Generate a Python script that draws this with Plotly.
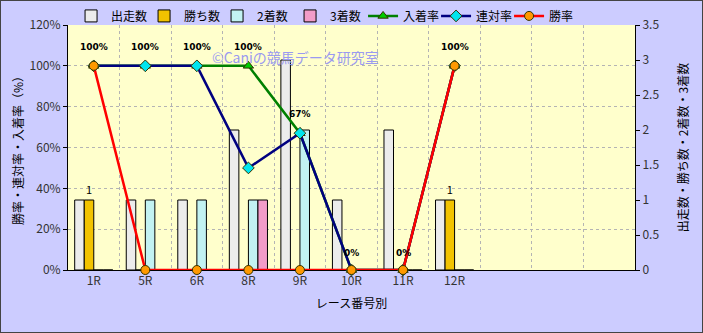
import plotly.graph_objects as go

categories = ["1R", "5R", "6R", "8R", "9R", "10R", "11R", "12R"]
n_slots = 11
starts = [1, 1, 1, 2, 3, 1, 2, 1]
wins = [1, 0, 0, 0, 0, 0, 0, 1]
seconds = [0, 1, 1, 1, 2, 0, 0, 0]
thirds = [0, 0, 0, 1, 0, 0, 0, 0]
place_rate = [100, 100, 100, 100, 67, 0, 0, 100]
rentai_rate = [100, 100, 100, 50, 67, 0, 0, 100]
win_rate = [100, 0, 0, 0, 0, 0, 0, 100]

xs = list(range(len(categories)))
FONT = "Noto Sans CJK JP"

fig = go.Figure()

bar_specs = [
    ("出走数", starts, "#ECECEC"),
    ("勝ち数", wins, "#F2C300"),
    ("2着数", seconds, "#C2F2F2"),
    ("3着数", thirds, "#F29CC8"),
]
for name, vals, col in bar_specs:
    txt = [str(v) if (name == "勝ち数" and v > 0) else "" for v in vals]
    fig.add_trace(go.Bar(
        x=xs, y=vals, name=name, yaxis="y",
        marker=dict(color=col, line=dict(color="#000000", width=1)),
        text=txt, textposition="outside", cliponaxis=False,
        textfont=dict(size=11, color="#000000", family=FONT),
    ))

line_specs = [
    ("入着率", place_rate, "#008000", "triangle-up", "#00CC00"),
    ("連対率", rentai_rate, "#000080", "diamond", "#00E5EE"),
    ("勝率", win_rate, "#FF0000", "circle", "#FF9900"),
]
for name, vals, lc, sym, mc in line_specs:
    fig.add_trace(go.Scatter(
        x=xs, y=vals, name=name, yaxis="y2", mode="lines+markers",
        line=dict(color=lc, width=2.5),
        marker=dict(symbol=sym, size=9, color=mc, line=dict(color="#333300", width=1)),
        cliponaxis=False,
    ))

annotations = []
for x, v in zip(xs, place_rate):
    annotations.append(dict(
        x=x, y=v, xref="x", yref="y2", text=f"<b>{v}%</b>", showarrow=False,
        yshift=19 if v > 0 else 17, font=dict(size=9, color="#000000", family="DejaVu Sans"),
    ))
annotations.append(dict(
    x=0.25, y=0.918, xref="paper", yref="paper", text="©Caniの競馬データ研究室",
    showarrow=False, font=dict(size=14, color="#9A9AF0", family=FONT),
))

L, R, T, B = 68, 68, 25, 63
W, H = 703, 333
pw, ph = W - L - R, H - T - B

fig.update_layout(
    width=W, height=H,
    margin=dict(l=L, r=R, t=T, b=B, autoexpand=False),
    paper_bgcolor="#CCCCFF", plot_bgcolor="#FFFFCC",
    barmode="group", bargap=0.26, bargroupgap=0,
    font=dict(family=FONT, size=12, color="#000000"),
    showlegend=True,
    legend=dict(orientation="h", x=0.456, xanchor="center", y=1.037, yanchor="middle",
                bgcolor="rgba(0,0,0,0)", font=dict(size=12, family=FONT),
                traceorder="normal", itemwidth=30, entrywidth=28, entrywidthmode="pixels"),
    xaxis=dict(
        range=[-0.5, n_slots - 0.5], tickmode="array", tickvals=xs, ticktext=categories,
        showgrid=False, showline=True, linecolor="#000000", linewidth=1, zeroline=False,
        layer="below traces",
        ticks="", tickfont=dict(size=12, color="#333333"),
        title=dict(text="レース番号別", font=dict(size=12, color="#000000"), standoff=12),
        minor=dict(tickvals=[i + 0.5 for i in range(n_slots - 1)], showgrid=True,
                   gridcolor="#B4B4B4", griddash="dot", gridwidth=1, ticks=""),
    ),
    yaxis=dict(
        side="right", range=[0, 3.5], dtick=0.5, showgrid=False, zeroline=False,
        showline=True, linecolor="#000000", linewidth=1, ticks="outside", ticklen=4,
        tickcolor="#000000", tickfont=dict(size=12, color="#333333"),
        title=dict(text="出走数・勝ち数・2着数・3着数", font=dict(size=12, color="#000000"), standoff=21),
    ),
    yaxis2=dict(
        side="left", overlaying="y", range=[0, 120], dtick=20, ticksuffix="%",
        showgrid=True, gridcolor="#B4B4B4", griddash="dot", gridwidth=1, zeroline=False,
        showline=True, linecolor="#000000", linewidth=1, ticks="outside", ticklen=4,
        tickcolor="#000000", tickfont=dict(size=12, color="#333333"),
        title=dict(text="勝率・連対率・入着率（%）", font=dict(size=12, color="#000000"), standoff=3),
    ),
    annotations=annotations,
    shapes=[dict(type="rect", xref="paper", yref="paper",
                 x0=-L / pw, x1=1 + R / pw, y0=-B / ph, y1=1 + T / ph,
                 line=dict(color="#444444", width=2), fillcolor="rgba(0,0,0,0)", layer="above")],
)

fig.write_html("out.html")
